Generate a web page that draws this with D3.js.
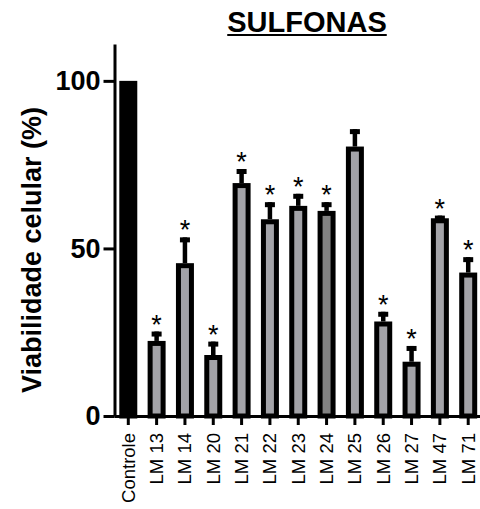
<!DOCTYPE html>
<html>
<head>
<meta charset="utf-8">
<script src="https://cdn.jsdelivr.net/npm/d3@7/dist/d3.min.js"></script>
<style>
  html, body { margin: 0; padding: 0; background: #fff; }
  svg { display: block; font-family: "Liberation Sans", Arial, sans-serif; }
</style>
</head>
<body>
<svg id="chart" width="480" height="509"></svg>
<script>
// Cell viability (%) per compound, mean and error (SD)
const categories = ["Controle", "LM 13", "LM 14", "LM 20", "LM 21", "LM 22", "LM 23",
                    "LM 24", "LM 25", "LM 26", "LM 27", "LM 47", "LM 71"];
const means  = [100, 22.4, 45.6, 18.2, 69.5, 58.7, 62.7, 61.2, 80.4, 28.2, 16.2, 59.0, 42.8];
const errors = [0,   2.8,  7.7,  4.0,  4.2,  5.1,  3.6,  2.6,  5.2,  2.9,  4.7,  0.8,  4.6];
const significant = [false, true, true, true, true, true, true, true, false, true, true, true, true];
const fills = ["#000000", "#a3a3a8", "#a3a3a8", "#a3a3a8", "#a3a3a8", "#a3a3a8", "#a3a3a8",
               "#828282", "#a3a3a8", "#a3a3a8", "#a3a3a8", "#a3a3a8", "#a3a3a8"];
const yTicks = [0, 50, 100];
const title = "SULFONAS";
const yTitle = "Viabilidade celular (%)";

const svg = d3.select("#chart");

const x = d3.scaleBand()
  .domain(categories)
  .range([114, 482.5])
  .paddingInner(0.365)
  .paddingOuter(0.187);

const y = d3.scaleLinear().domain([0, 111]).range([416, 44]);

const bw = x.bandwidth();
const border = 5;

// Bars: black outline with grey (or black) fill
svg.append("g").selectAll("rect")
  .data(categories)
  .join("rect")
  .attr("x", d => x(d) + border / 2)
  .attr("y", (d, i) => y(means[i]) + border / 2)
  .attr("width", bw - border)
  .attr("height", (d, i) => y(0) - y(means[i]) - border / 2)
  .attr("fill", (d, i) => fills[i])
  .attr("stroke", "#000")
  .attr("stroke-width", border);

// Error bars (upper only)
const err = svg.append("g");
categories.forEach((c, i) => {
  if (!errors[i]) return;
  const cx = x(c) + bw / 2;
  err.append("line")
    .attr("x1", cx).attr("x2", cx)
    .attr("y1", y(means[i])).attr("y2", y(means[i] + errors[i]))
    .attr("stroke", "#000").attr("stroke-width", 4.5);
  err.append("rect")
    .attr("x", cx - 5).attr("width", 10)
    .attr("y", y(means[i] + errors[i])).attr("height", 5)
    .attr("fill", "#000");
});

// Significance marks
svg.append("g").selectAll("text")
  .data(categories.filter((c, i) => significant[i]))
  .join("text")
  .attr("x", d => x(d) + bw / 2)
  .attr("y", d => { const i = categories.indexOf(d); return y(means[i] + errors[i]) + 2; })
  .attr("text-anchor", "middle")
  .attr("font-size", 27)
  .attr("fill", "#000")
  .text("*");

// Y axis
const yAxis = svg.append("g")
  .attr("transform", `translate(114.5,0)`)
  .call(d3.axisLeft(y).tickValues(yTicks).tickSize(11).tickSizeOuter(0).tickPadding(3));
yAxis.select(".domain").attr("stroke-width", 3);
yAxis.selectAll(".tick line").attr("stroke-width", 3);
yAxis.selectAll(".tick text")
  .attr("font-size", 27).attr("font-weight", "bold")
  .attr("font-family", "'Liberation Sans', Arial, sans-serif")
  .attr("fill", "#000");

// X axis
const xAxis = svg.append("g")
  .attr("transform", `translate(0,${y(0)})`)
  .call(d3.axisBottom(x).tickSize(9).tickSizeOuter(0));
xAxis.select(".domain").attr("stroke-width", 3);
xAxis.selectAll(".tick line").attr("stroke-width", 3);
xAxis.selectAll(".tick text")
  .attr("font-size", 18.5)
  .attr("font-family", "'Liberation Sans', Arial, sans-serif")
  .attr("fill", "#000")
  .attr("text-anchor", "end")
  .attr("dy", null)
  .attr("transform", "translate(6.5,17) rotate(-90)")
  .attr("x", 0).attr("y", 0);

// Y axis title
svg.append("text")
  .attr("transform", "translate(41,250) rotate(-90)")
  .attr("text-anchor", "middle")
  .attr("font-size", 27)
  .attr("font-weight", "bold")
  .text(yTitle);

// Chart title with underline
const t = svg.append("text")
  .attr("x", 307).attr("y", 32)
  .attr("text-anchor", "middle")
  .attr("font-size", 29)
  .attr("font-weight", "bold")
  .text(title);
const tw = t.node().getComputedTextLength();
svg.append("rect")
  .attr("x", 307 - tw / 2).attr("width", tw)
  .attr("y", 34).attr("height", 2)
  .attr("fill", "#000");
</script>
</body>
</html>
